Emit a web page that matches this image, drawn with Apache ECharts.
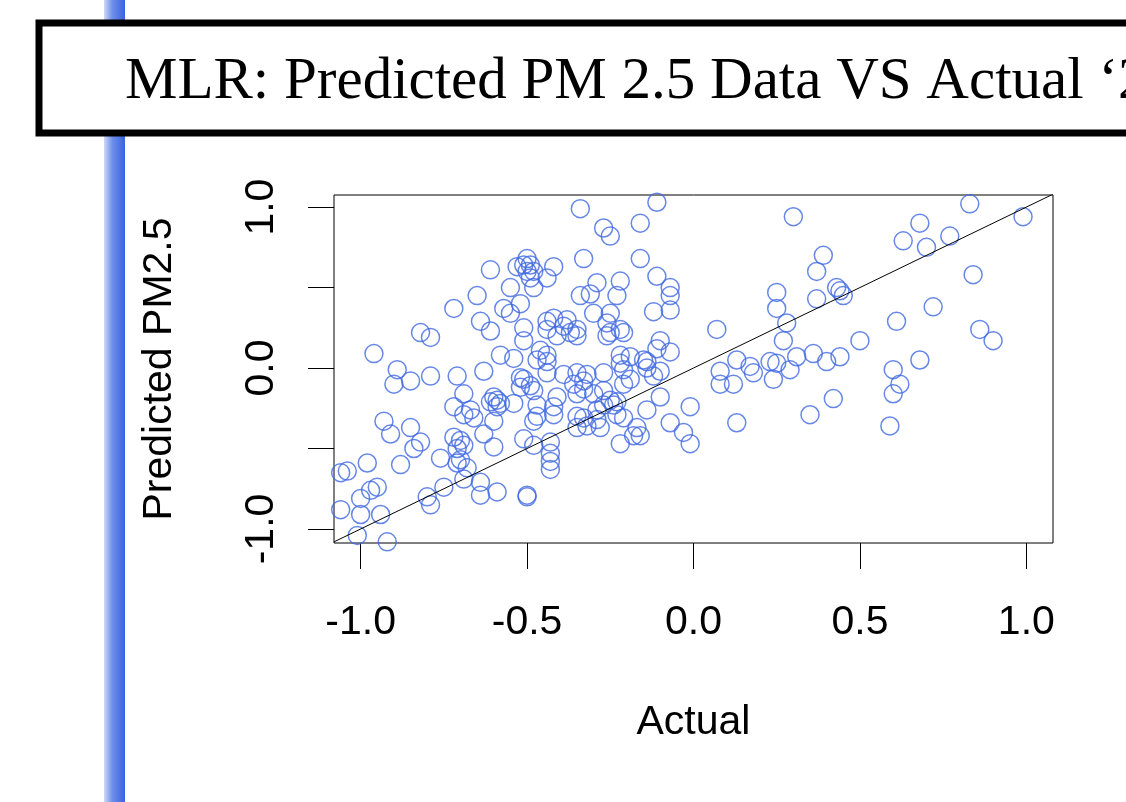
<!DOCTYPE html>
<html>
<head>
<meta charset="utf-8">
<title>MLR: Predicted PM 2.5 vs Actual</title>
<script src="https://cdn.jsdelivr.net/npm/echarts@6/dist/echarts.min.js"></script>
<style>
  html, body { margin: 0; padding: 0; background: #fff; }
  #chart { width: 1126px; height: 802px; }
</style>
</head>
<body>
<div id="chart"></div>
<script>
// points (actual, predicted)
var actualVals = [
  -0.34, -0.61, -0.53, -0.50, -0.49, -0.48, -0.50, -0.49, -0.51, -0.42,
  -0.44, -0.33, -0.55, -0.48, -0.65, -0.72, -0.34, -0.31, -0.29, -0.57,
  -0.55, -0.52, -0.64, -0.61, -0.51, -0.30, -0.44, -0.42, -0.38, -0.39,
  -0.35, -0.44, -0.26, -0.82, -0.79, -0.96, -0.51, -0.41, -0.37, -0.35,
  -0.26, -0.58, -0.54, -0.46, -0.44, -0.47, -0.44, -0.63, -0.71, -0.52,
  -0.51, -0.49, -0.52, -0.48, -0.44, -0.39, -0.35, -0.32, -0.36, -0.33,
  -0.27, -0.69, -0.60, -0.59, -0.58, -0.59, -0.61, -0.54, -0.47, -0.41,
  -0.42, -0.35, -0.30, -0.27, -0.72, -0.67, -0.69, -0.66, -0.47, -0.42,
  -0.35, -0.29, -0.60, -0.48, -0.89, -0.90, -0.85, -0.79, -0.93, -0.91,
  -0.85, -0.82, -0.84, -0.72, -0.70, -0.71, -0.69, -0.63, -0.60, -0.51,
  -0.48, -0.43, -0.43, -0.43, -0.43, -0.76, -0.70, -0.71, -0.68, -0.69,
  -0.88, -0.98, -1.06, -1.04, -0.64, -0.64, -0.59, -0.50, -0.50, -0.75,
  -0.80, -0.79, -0.95, -0.97, -1.00, -1.06, -1.00, -0.94, -1.01, -0.92,
  -0.25, -0.22, -0.21, -0.10, -0.11, -0.07, -0.22, -0.19, -0.22, -0.15,
  -0.14, -0.33, -0.19, -0.21, -0.12, -0.10, -0.25, -0.27, -0.24, -0.23,
  -0.14, -0.10, -0.01, -0.33, -0.29, -0.32, -0.35, -0.23, -0.21, -0.07,
  -0.03, -0.01, -0.28, -0.17, -0.16, -0.22, -0.21, -0.14, -0.18, -0.11,
  -0.27, -0.25, -0.16, -0.16, -0.11, -0.22, -0.23, -0.07, -0.07, -0.25,
  -0.12, -0.07, 0.07, 0.25, 0.25, 0.28, 0.27, 0.37, 0.37, 0.30,
  0.13, 0.17, 0.23, 0.25, 0.31, 0.36, 0.08, 0.08, 0.12, 0.18,
  0.24, 0.29, 0.13, 0.35, 0.83, 0.99, 0.68, 0.63, 0.70, 0.77,
  0.39, 0.84, 0.43, 0.44, 0.45, 0.72, 0.61, 0.86, 0.90, 0.50,
  0.40, 0.44, 0.68, 0.60, 0.62, 0.60, 0.42, 0.59
];
var predictedVals = [
  0.99, 0.61, 0.63, 0.68, 0.64, 0.60, 0.60, 0.56, 0.64, 0.63,
  0.56, 0.68, 0.50, 0.50, 0.45, 0.37, 0.45, 0.46, 0.53, 0.37,
  0.34, 0.40, 0.29, 0.23, 0.25, 0.34, 0.29, 0.31, 0.30, 0.26,
  0.24, 0.24, 0.28, 0.22, 0.19, 0.09, 0.17, 0.20, 0.22, 0.20,
  0.20, 0.08, 0.06, 0.11, 0.08, 0.05, 0.04, -0.02, -0.05, -0.06,
  -0.07, -0.11, -0.12, -0.14, -0.03, -0.04, -0.03, -0.04, -0.10, -0.13,
  -0.03, -0.16, -0.18, -0.20, -0.22, -0.24, -0.21, -0.22, -0.23, -0.18,
  -0.24, -0.16, -0.16, -0.14, -0.24, -0.26, -0.29, -0.31, -0.30, -0.29,
  -0.30, -0.26, -0.33, -0.33, -0.01, -0.10, -0.08, -0.05, -0.33, -0.41,
  -0.37, -0.46, -0.50, -0.43, -0.45, -0.50, -0.48, -0.41, -0.49, -0.44,
  -0.48, -0.46, -0.53, -0.58, -0.63, -0.56, -0.57, -0.59, -0.62, -0.69,
  -0.60, -0.59, -0.65, -0.64, -0.71, -0.79, -0.77, -0.79, -0.80, -0.74,
  -0.80, -0.85, -0.74, -0.76, -0.81, -0.88, -0.91, -0.91, -1.04, -1.08,
  0.22, 0.24, 0.22, 0.17, 0.12, 0.10, 0.08, 0.07, 0.03, 0.05,
  0.04, -0.08, -0.07, -0.10, -0.05, -0.02, -0.20, -0.23, -0.23, -0.21,
  -0.26, -0.18, -0.24, -0.31, -0.32, -0.36, -0.37, -0.29, -0.31, -0.34,
  -0.40, -0.47, -0.37, -0.37, -0.42, -0.47, -0.01, 0.00, -0.42, 1.03,
  0.87, 0.82, 0.90, 0.68, 0.57, 0.54, 0.45, 0.50, 0.45, 0.34,
  0.35, 0.36, 0.24, 0.47, 0.37, 0.28, 0.17, 0.60, 0.43, 0.94,
  0.05, 0.01, 0.04, 0.03, 0.07, 0.09, -0.02, -0.10, -0.10, -0.03,
  -0.07, -0.01, -0.34, -0.29, 1.02, 0.94, 0.90, 0.79, 0.75, 0.82,
  0.70, 0.58, 0.50, 0.48, 0.45, 0.38, 0.29, 0.24, 0.17, 0.17,
  0.04, 0.07, 0.05, -0.01, -0.10, -0.16, -0.19, -0.36
];

var xTicks = [-1.0, -0.5, 0.0, 0.5, 1.0];
var yTicks = [-1.0, -0.5, 0.0, 0.5, 1.0];
var yLabels = [-1.0, 0.0, 1.0];

var xMin = -1.08, xMax = 1.08;
var yMin = -1.087, yMax = 1.075;

var points = actualVals.map(function (a, i) { return [a, predictedVals[i]]; });

var axisFont = 'Liberation Sans, Arial, sans-serif';
var fmt = function (v) { return Number(v).toFixed(1); };

var chart = echarts.init(document.getElementById('chart'));
chart.setOption({
  animation: false,
  backgroundColor: '#fff',
  title: {
    text: 'MLR: Predicted PM 2.5 Data VS Actual \u20182',
    left: 120,
    top: 48,
    textStyle: {
      fontFamily: 'Liberation Serif, Times New Roman, serif',
      fontSize: 59,
      fontWeight: 'normal',
      color: '#000'
    }
  },
  graphic: [
    {
      // blue bar of the slide
      type: 'rect',
      z: 0,
      shape: { x: 104, y: 0, width: 21, height: 802 },
      style: {
        fill: new echarts.graphic.LinearGradient(0, 0, 1, 0, [
          { offset: 0, color: '#cdd9f7' },
          { offset: 0.4, color: '#6d8fea' },
          { offset: 1, color: '#3c62de' }
        ])
      }
    },
    {
      // title box
      type: 'rect',
      z: 1,
      shape: { x: 39, y: 23, width: 1200, height: 110 },
      style: { fill: '#fff', stroke: '#000', lineWidth: 7 }
    }
  ],
  grid: {
    left: 334, top: 195, width: 719, height: 348,
    show: true, borderColor: '#000', borderWidth: 1, backgroundColor: '#fff'
  },
  xAxis: {
    type: 'value',
    min: xMin, max: xMax,
    name: 'Actual',
    nameLocation: 'middle',
    nameGap: 159,
    nameTextStyle: { fontFamily: axisFont, fontSize: 41, color: '#000' },
    axisLine: { show: false, onZero: false },
    splitLine: { show: false },
    axisTick: {
      show: true, inside: false, length: 26, customValues: xTicks,
      lineStyle: { color: '#000', width: 1 }
    },
    axisLabel: {
      customValues: xTicks, formatter: fmt, margin: 59,
      fontFamily: axisFont, fontSize: 41, color: '#000'
    }
  },
  yAxis: {
    type: 'value',
    min: yMin, max: yMax,
    name: 'Predicted PM2.5',
    nameLocation: 'middle',
    nameRotate: 90,
    nameGap: 154,
    nameTextStyle: { fontFamily: axisFont, fontSize: 41, color: '#000' },
    axisLine: { show: false, onZero: false },
    splitLine: { show: false },
    axisTick: {
      show: true, inside: false, length: 26, customValues: yTicks,
      lineStyle: { color: '#000', width: 1 }
    },
    axisLabel: {
      customValues: yLabels, formatter: fmt, rotate: 90, margin: 52,
      fontFamily: axisFont, fontSize: 41, color: '#000'
    }
  },
  series: [
    {
      type: 'scatter',
      data: points,
      symbol: 'circle',
      symbolSize: 18,
      silent: true,
      itemStyle: { color: 'rgba(0,0,0,0)', borderColor: '#4169e1', borderWidth: 1.5 },
      emphasis: { disabled: true }
    },
    {
      // y = x reference line
      type: 'line',
      data: [[xMin, xMin], [xMax, xMax]],
      symbol: 'none',
      silent: true,
      lineStyle: { color: '#000', width: 1 }
    }
  ]
});
</script>
</body>
</html>
